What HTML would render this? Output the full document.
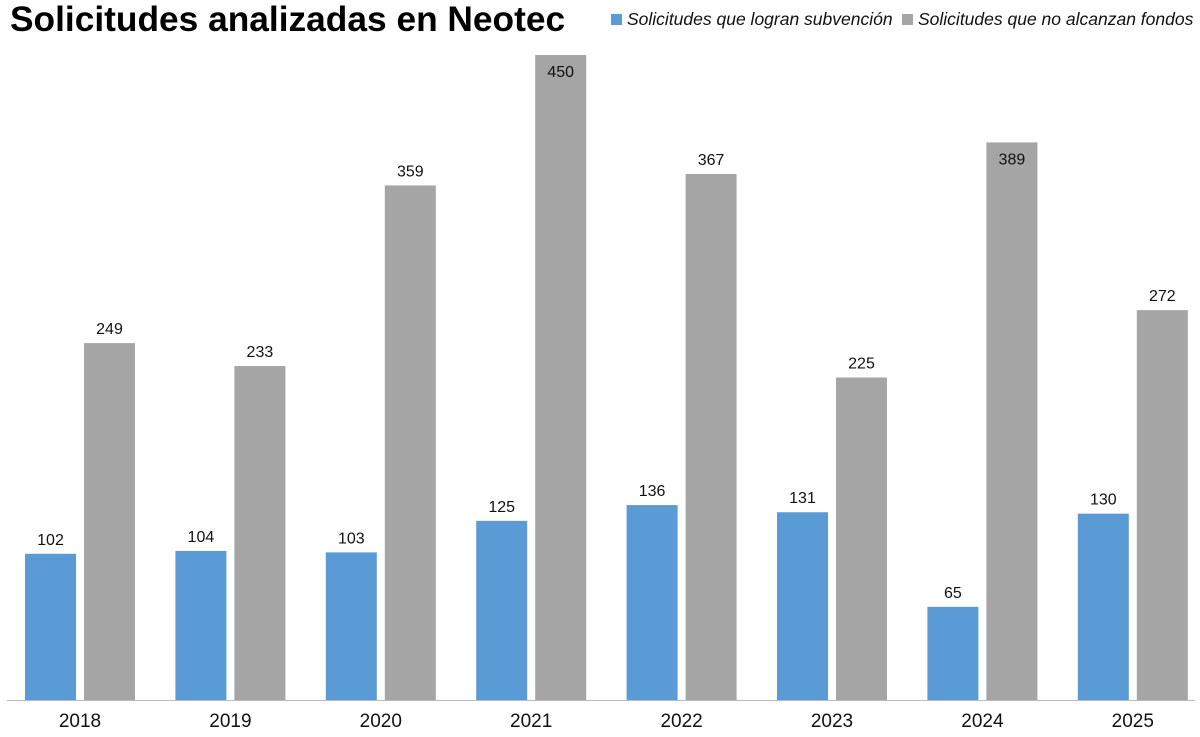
<!DOCTYPE html>
<html><head><meta charset="utf-8"><style>
body{margin:0;width:1200px;height:732px;background:#fff;overflow:hidden;font-family:"Liberation Sans",sans-serif}
</style></head><body>
<svg width="1200" height="732" xmlns="http://www.w3.org/2000/svg">
<text x="10" y="31" font-size="35.3" font-weight="bold" fill="#000" font-family="Liberation Sans, sans-serif">Solicitudes analizadas en Neotec</text>
<g font-size="17.5" font-style="italic" fill="#111">
<rect x="611" y="14" width="11" height="11" fill="#5b9bd5"/>
<text x="627" y="25">Solicitudes que logran subvención</text>
<rect x="902" y="14" width="11" height="11" fill="#a5a5a5"/>
<text x="918" y="25">Solicitudes que no alcanzan fondos</text>
</g>
<line x1="7" y1="700.5" x2="1195" y2="700.5" stroke="#bbb" stroke-width="1"/>
<g id="bars"></g>
</svg>
<script>
const years=["2018","2019","2020","2021","2022","2023","2024","2025"];
const funded=[102,104,103,125,136,131,65,130];
const unfunded=[249,233,359,450,367,225,389,272];
const base=700, k=(700-55)/450, x0=25, step=150.4, bw=51, gap=8;
const y=v=>base-v*k;
const g=document.getElementById('bars');
const NS="http://www.w3.org/2000/svg";
function mk(t,a){const e=document.createElementNS(NS,t);for(const n in a)e.setAttribute(n,a[n]);g.appendChild(e);return e;}
years.forEach((yr,i)=>{
  const bx=x0+step*i, gx=bx+bw+gap;
  const r1=mk('rect',{x:bx,y:y(funded[i]),width:bw,height:funded[i]*k,fill:'#5b9bd5'});
  
  
  const r2=mk('rect',{x:gx,y:y(unfunded[i]),width:bw,height:unfunded[i]*k,fill:'#a5a5a5'});
  
  
  const t1=mk('text',{x:bx+bw/2,y:y(funded[i])-9,'font-size':16,'text-anchor':'middle',fill:'#111'});
  t1.textContent=funded[i];
  
  
  const inside=y(unfunded[i])<160;
  const t2=mk('text',{x:gx+bw/2,y:inside?y(unfunded[i])+22:y(unfunded[i])-9,'font-size':16,'text-anchor':'middle',fill:'#111'});
  t2.textContent=unfunded[i];
  
  
  const tx=mk('text',{x:bx+bw+gap/2,y:727,'font-size':19,'text-anchor':'middle',fill:'#111'});
  tx.textContent=yr;
  
  
});
</script>
</body></html>
